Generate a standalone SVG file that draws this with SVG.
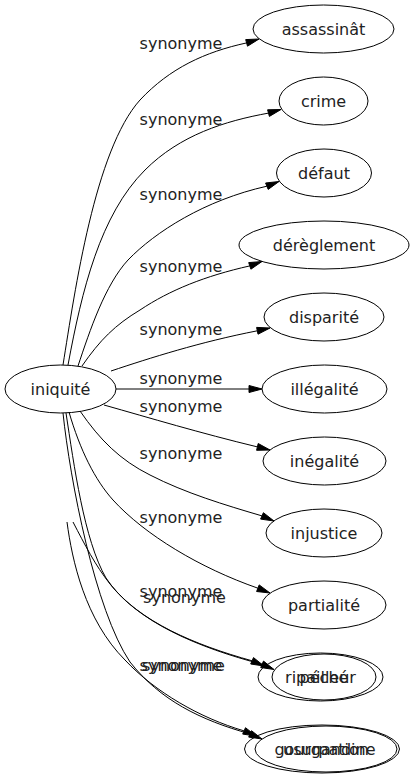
<svg xmlns="http://www.w3.org/2000/svg" width="414" height="779" viewBox="0 0 414 779">
<style>
.n ellipse{fill:none;stroke:#000;stroke-width:1}
.n text{font-family:"DejaVu Sans",sans-serif;font-size:16px;text-anchor:middle;fill:#222}
#edges path{fill:none;stroke:#000;stroke-width:1}
#edges polygon{fill:#000;stroke:#000;stroke-width:1}
.lbl{font-family:"DejaVu Sans",sans-serif;font-size:16px;text-anchor:middle;fill:#222}
</style>
<rect width="414" height="779" fill="#fff"/>
<g id="edges">
<path d="M63,365 C75,290 95,150 140,100 C170,68 205,52 246.6,42.9"/>
<polygon points="259,39 247.5,46.2 245.7,39.6"/>
<text class="lbl" x="181" y="49">synonyme</text>

<path d="M68,365 C82,290 100,215 145,170 C180,135 225,121 268.5,113.1"/>
<polygon points="281,109.5 269.4,116.4 267.6,109.8"/>
<text class="lbl" x="181" y="125">synonyme</text>

<path d="M78,366 C90,330 105,285 128,260 C155,232 205,200 266.9,186.2"/>
<polygon points="279,181.5 268.2,189.4 265.6,183"/>
<text class="lbl" x="181" y="200">synonyme</text>

<path d="M82,366 C100,340 115,325 140,310 C170,290 205,276 249.8,265.9"/>
<polygon points="262,261.5 250.9,269.2 248.7,262.6"/>
<text class="lbl" x="181" y="272">synonyme</text>

<path d="M111,371 C150,358 200,342 257.3,330.8"/>
<polygon points="270,328 258,334.2 256.6,327.4"/>
<text class="lbl" x="181" y="335">synonyme</text>

<path d="M116,389 L249,389"/>
<polygon points="262,389 249,392.5 249,385.5"/>
<text class="lbl" x="181" y="384">synonyme</text>

<path d="M104,405 C150,418 200,433 257.4,446.9"/>
<polygon points="270,450 256.6,450.3 258.2,443.5"/>
<text class="lbl" x="181" y="412">synonyme</text>

<path d="M80,411 C100,440 120,460 150,475 C185,493 225,505 262,515.9"/>
<polygon points="274,521 260.6,519.1 263.4,512.7"/>
<text class="lbl" x="181" y="459">synonyme</text>

<path d="M69,412 C80,450 95,480 113,500 C145,535 200,568 257.9,588.2"/>
<polygon points="270,593 256.6,591.5 259.2,584.9"/>
<text class="lbl" x="181" y="523">synonyme</text>

<path d="M66,413 C74,465 84,540 106,578 C135,622 200,648 262.1,664.3"/>
<polygon points="274,669.5 260.7,667.5 263.5,661.1"/>
<text class="lbl" x="181" y="597">synonyme</text>

<path d="M73,522 C85,545 95,565 110,584 C140,622 195,645 252.1,660.8"/>
<polygon points="264,666 250.7,664 253.5,657.6"/>
<text class="lbl" x="184.5" y="603">synonyme</text>

<path d="M63,413 C70,480 95,610 130,662 C160,700 200,720 250.1,733.9"/>
<polygon points="262,739 248.7,737.1 251.5,730.7"/>
<text class="lbl" x="181" y="671">synonyme</text>

<path d="M67,522 C72,560 85,620 125,660 C155,692 200,718 244.1,730.9"/>
<polygon points="256,736 242.7,734.1 245.5,727.7"/>
<text class="lbl" x="183.5" y="671">synonyme</text>
</g>
<g id="n-iniquite" class="n"><ellipse cx="60.5" cy="389" rx="55.5" ry="24"/><text x="60.5" y="394.5">iniquité</text></g>
<g id="n-assassinat" class="n"><ellipse cx="323.5" cy="29" rx="70.5" ry="24"/><text x="323.5" y="34.5">assassinât</text></g>
<g id="n-crime" class="n"><ellipse cx="323.5" cy="101" rx="44.5" ry="24"/><text x="323.5" y="106.5">crime</text></g>
<g id="n-defaut" class="n"><ellipse cx="324" cy="173" rx="47.5" ry="24"/><text x="324" y="178.5">défaut</text></g>
<g id="n-dereglement" class="n"><ellipse cx="324" cy="245" rx="85" ry="24"/><text x="324" y="250.5">dérèglement</text></g>
<g id="n-disparite" class="n"><ellipse cx="324" cy="317" rx="60" ry="24"/><text x="324" y="322.5">disparité</text></g>
<g id="n-illegalite" class="n"><ellipse cx="324.5" cy="389" rx="62.5" ry="24"/><text x="324.5" y="394.5">illégalité</text></g>
<g id="n-inegalite" class="n"><ellipse cx="324.5" cy="461" rx="61.5" ry="24"/><text x="324.5" y="466.5">inégalité</text></g>
<g id="n-injustice" class="n"><ellipse cx="324" cy="533" rx="58" ry="24"/><text x="324" y="538.5">injustice</text></g>
<g id="n-partialite" class="n"><ellipse cx="324" cy="605" rx="62" ry="24"/><text x="324" y="610.5">partialité</text></g>
<g id="n-ripailleur" class="n"><ellipse cx="320.5" cy="677" rx="62.5" ry="24"/><text x="320.5" y="682.5">ripailleur</text></g>
<g id="n-peche" class="n"><ellipse cx="324" cy="677" rx="52" ry="23"/><text x="324" y="682.5">péché</text></g>
<g id="n-gourgandine" class="n"><ellipse cx="322" cy="749" rx="77.5" ry="24"/><text x="325" y="754.5">gourgandine</text></g>
<g id="n-usurpation" class="n"><ellipse cx="326" cy="749" rx="71" ry="23"/><text x="326" y="754.5">usurpation</text></g>
</svg>
